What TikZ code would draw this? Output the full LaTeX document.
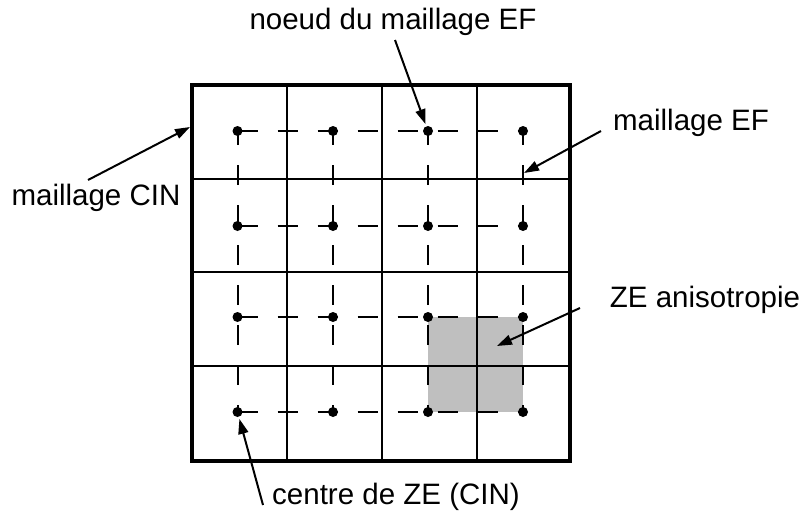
\documentclass[tikz,border=0pt]{standalone}
\usepackage{fontspec}
\setmainfont{Liberation Sans}
\usetikzlibrary{arrows.meta}
\tikzset{
  lbl/.style={font=\fontsize{29.5}{34}\selectfont, inner sep=0pt, anchor=center},
  gridline/.style={line width=2pt, black},
  outerline/.style={line width=4pt, black},
  dashline/.style={line width=2pt, dash pattern=on 20pt off 20pt},
  dotnode/.style={circle, fill=black, minimum size=10pt, inner sep=0pt},
  pointer/.style={line width=2pt, -{Triangle[length=15pt,width=10pt]}, shorten >=2pt}
}
\begin{document}
\begin{tikzpicture}[x=1pt,y=-1pt]
\useasboundingbox (0,0) rectangle (805,519);
% gray zone
\fill[black!25] (428,317) rectangle (523,412);
% grid
\foreach \x in {287,382,477} \draw[gridline] (\x,85) -- (\x,461);
\foreach \y in {179,272,366} \draw[gridline] (192,\y) -- (570,\y);
\draw[outerline] (192,85) rectangle (570,461);
% dots
\foreach \i/\x in {1/237.5,2/333,3/428,4/523}
  \foreach \j/\y in {1/131,2/226,3/317,4/412}
    \node[dotnode] (d\i\j) at (\x,\y) {};
% dashed mesh
\foreach \j in {1,2,3,4} \draw[dashline] (d1\j.center) -- (d4\j.center);
\foreach \i in {1,2,3,4} \draw[dashline, dash phase=6pt] (d\i1.center) -- (d\i4.center);
% labels
\node[lbl] (tnoeud) at (393,22) {noeud du maillage EF};
\node[lbl] (tef) at (691,123) {maillage EF};
\node[lbl] (tcin) at (96,198) {maillage CIN};
\node[lbl] (tze) at (705,300) {ZE anisotropie};
\node[lbl] (tcentre) at (396,497) {centre de ZE (CIN)};
% anchor points
\coordinate (a1s) at (395,40);
\coordinate (a2s) at (601,131);
\coordinate (a2e) at (524,173);
\coordinate (a3s) at (88,180);
\coordinate (a3e) at (190,127);
\coordinate (a4s) at (580,308);
\coordinate (a4e) at (497,346);
\coordinate (a5s) at (263,505);
% arrows
\draw[pointer] (a1s) -- (d31);
\draw[pointer, shorten >=0pt] (a2s) -- (a2e);
\draw[pointer, shorten >=0pt] (a3s) -- (a3e);
\draw[pointer, shorten >=0pt] (a4s) -- (a4e);
\draw[pointer] (a5s) -- (d14);
\end{tikzpicture}
\end{document}
